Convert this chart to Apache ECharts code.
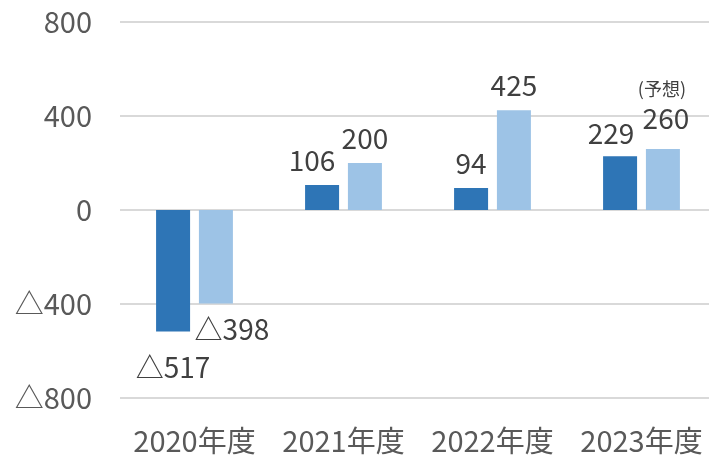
<!DOCTYPE html>
<html>
<head>
<meta charset="utf-8">
<script src="https://cdn.jsdelivr.net/npm/echarts@6/dist/echarts.min.js"></script>
<style>
  html, body { margin: 0; padding: 0; background: #fff; }
  #main { width: 709px; height: 458px; }
</style>
</head>
<body>
<div id="main"></div>
<script>
let categories = ['2020年度', '2021年度', '2022年度', '2023年度'];
let seriesDark = [-517, 106, 94, 229];
let seriesLight = [-398, 200, 425, 260];
let yTicks = { min: -800, max: 800, interval: 400 };

let fontFamily = '"Noto Sans CJK JP", "Noto Sans", sans-serif';

// 負の値は △ 表記
function fmt(v) {
    return v < 0 ? '△' + Math.abs(v) : String(v);
}

let darkData = seriesDark.map(function (v, i) {
    let item = { value: v };
    if (v < 0) {
        item.label = { position: 'bottom', distance: 22 };
    } else if (i === 1) {
        item.label = { offset: [-10, 0] };
    } else if (i === 3) {
        item.label = { offset: [-9, 0], distance: 9 };
    }
    return item;
});

let lightData = seriesLight.map(function (v, i) {
    let item = { value: v };
    if (v < 0) {
        item.label = { position: 'bottom', distance: 12, offset: [16, 0] };
    } else if (i === 3) {
        item.label = {
            offset: [3, 0],
            distance: 17,
            formatter: '{s|(予想)}\n{v|' + v + '}'
        };
    }
    return item;
});

let labelStyle = {
    show: true,
    position: 'top',
    distance: 11,
    color: '#404040',
    fontSize: 28,
    fontFamily: fontFamily,
    formatter: function (p) { return fmt(p.value); },
    rich: {
        s: { fontSize: 18, color: '#404040', fontFamily: fontFamily, padding: [0, 8, 6, 0] },
        v: { fontSize: 28, color: '#404040', fontFamily: fontFamily }
    }
};

let option = {
    animation: false,
    grid: { left: 120, top: 22, bottom: 60, right: -7, outerBoundsMode: 'none', containLabel: false },
    xAxis: {
        type: 'category',
        data: categories,
        axisLine: { show: false, onZero: false },
        axisTick: { show: false },
        axisLabel: { color: '#595959', fontSize: 29, fontFamily: fontFamily, margin: 28, interval: 0 }
    },
    yAxis: {
        type: 'value',
        min: yTicks.min,
        max: yTicks.max,
        interval: yTicks.interval,
        axisLine: { show: false },
        axisTick: { show: false },
        splitLine: { lineStyle: { color: '#d9d9d9', width: 2 } },
        axisLabel: {
            color: '#595959',
            fontSize: 29,
            fontFamily: fontFamily,
            margin: 28,
            formatter: fmt
        }
    },
    series: [
        {
            name: '実績',
            type: 'bar',
            barWidth: 34,
            barGap: '26%',
            itemStyle: { color: '#2E75B6' },
            label: labelStyle,
            data: darkData
        },
        {
            name: '計画',
            type: 'bar',
            barWidth: 34,
            itemStyle: { color: '#9DC3E6' },
            label: labelStyle,
            data: lightData
        }
    ]
};

let chart = echarts.init(document.getElementById('main'));
chart.setOption(option);
</script>
</body>
</html>
